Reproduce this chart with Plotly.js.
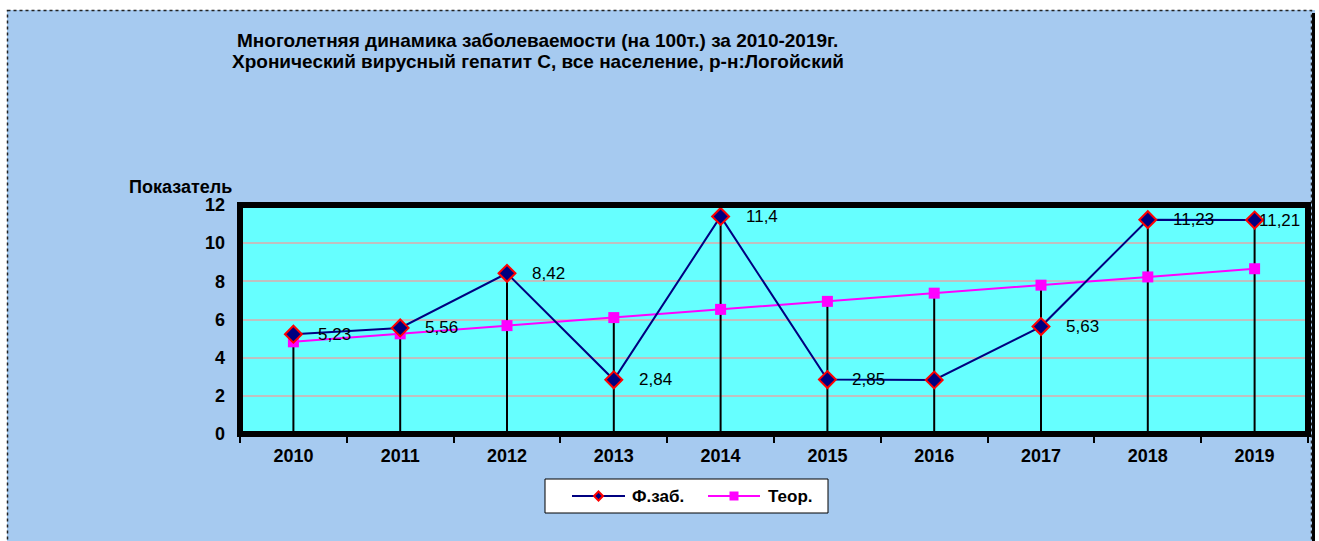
<!DOCTYPE html>
<html>
<head>
<meta charset="utf-8">
<script src="https://cdn.plot.ly/plotly-3.0.1.min.js"></script>
<style>html,body{margin:0;padding:0;background:#fff;}#chart{width:1319px;height:541px;}</style>
</head>
<body>
<div id="chart"></div>
<script>
// ---- data ----
var years = ['2010','2011','2012','2013','2014','2015','2016','2017','2018','2019'];
var fz = [5.23, 5.56, 8.42, 2.84, 11.4, 2.85, 2.83, 5.63, 11.23, 11.21];
var fzLabels = ['5,23','5,56','8,42','2,84','11,4','2,85','','5,63','11,23','11,21'];
var teor = [4.83, 5.25, 5.68, 6.10, 6.53, 6.95, 7.38, 7.80, 8.23, 8.66];
var yTicks = [0, 2, 4, 6, 8, 10, 12];
var seriesNames = ['Ф.заб.', 'Теор.'];
var titleLines = ['Многолетняя динамика заболеваемости (на 100т.) за 2010-2019г.',
                  'Хронический вирусный гепатит С, все население, р-н:Логойский'];
var yAxisLabel = 'Показатель';

// ---- geometry ----
var W = 1319, H = 541;
var M = {l: 240, r: 11, t: 205, b: 107};
var PW = W - M.l - M.r, PH = H - M.t - M.b;
function px(x) { return (x - M.l) / PW; }
function py(y) { return (H - M.b - y) / PH; }

var FONT = 'Arial, "Liberation Sans", sans-serif';
var NAVY = '#000080', MAG = '#FF00FF', RED = '#FF0000';
var idx = years.map(function (_, i) { return i; });

var dropTop = fz.map(function (v, i) { return Math.max(v, teor[i]); });

var traces = [
  { // drop lines
    x: idx, y: dropTop, type: 'scatter', mode: 'markers',
    marker: {size: 1, color: 'rgba(0,0,0,0)'},
    error_y: {type: 'data', symmetric: false, array: dropTop.map(function () { return 0; }),
              arrayminus: dropTop, color: '#000', thickness: 2, width: 0},
    showlegend: false, hoverinfo: 'skip'
  },
  {
    x: idx, y: teor, type: 'scatter', mode: 'lines+markers', name: seriesNames[1],
    line: {color: MAG, width: 2},
    marker: {symbol: 'square', size: 11, color: MAG, line: {width: 0}},
    showlegend: false
  },
  {
    x: idx, y: fz, type: 'scatter', mode: 'lines+markers', name: seriesNames[0],
    line: {color: NAVY, width: 2},
    marker: {symbol: 'diamond', size: 13, color: NAVY, line: {color: RED, width: 2}},
    showlegend: false
  }
];

var annotations = [];
fz.forEach(function (v, i) {
  if (!fzLabels[i]) return;
  annotations.push({
    x: i, y: v, xref: 'x', yref: 'y', text: fzLabels[i], showarrow: false,
    xanchor: 'left', yanchor: 'middle', xshift: (i === fz.length - 1) ? 2 : 23,
    font: {family: FONT, size: 17, color: '#000'}
  });
});
annotations.push({
  xref: 'paper', yref: 'paper', x: px(127), y: py(187), xanchor: 'left', yanchor: 'middle',
  text: '<b>' + yAxisLabel + '</b>', showarrow: false,
  font: {family: FONT, size: 18, color: '#000'}
});
annotations.push({
  xref: 'paper', yref: 'paper', x: px(537), y: py(40), xanchor: 'center', yanchor: 'middle',
  text: '<b>' + titleLines[0] + '</b>', showarrow: false,
  font: {family: FONT, size: 19, color: '#000'}
});
annotations.push({
  xref: 'paper', yref: 'paper', x: px(538), y: py(61), xanchor: 'center', yanchor: 'middle',
  text: '<b>' + titleLines[1] + '</b>', showarrow: false,
  font: {family: FONT, size: 19, color: '#000'}
});

function rect(x0, y0, x1, y1, opts) {
  var s = {type: 'rect', xref: 'paper', yref: 'paper', x0: px(x0), x1: px(x1), y0: py(y0), y1: py(y1)};
  for (var k in opts) s[k] = opts[k];
  return s;
}
function seg(x0, y0, x1, y1, color, w) {
  return {type: 'line', xref: 'paper', yref: 'paper', x0: px(x0), x1: px(x1), y0: py(y0), y1: py(y1),
          line: {color: color, width: w}};
}

// ---- legend (drawn manually to match the original box layout) ----
var LG = {x0: 545, y0: 479, x1: 828, y1: 513};
var lgY = (LG.y0 + LG.y1) / 2;
var legendItems = [
  {name: seriesNames[0], lx0: 572, lx1: 625, tx: 630, color: NAVY},
  {name: seriesNames[1], lx0: 708, lx1: 760, tx: 766, color: MAG}
];

var shapes = [
  rect(0, 0, W, 10, {fillcolor: '#fff', line: {width: 0}, layer: 'below'}),
  rect(0, 0, 7, H + 5, {fillcolor: '#fff', line: {width: 0}, layer: 'below'}),
  rect(1315, 0, W, H + 5, {fillcolor: '#fff', line: {width: 0}, layer: 'below'}),
  rect(1312, 13, 1315, H + 5, {fillcolor: '#000', line: {width: 0}, layer: 'below'}),
  rect(7.5, 10.5, 1311.5, H + 5, {line: {color: '#222', width: 1.5, dash: 'dot'}}),
  {type: 'rect', xref: 'paper', yref: 'paper', x0: 0, x1: 1, y0: 0, y1: 1,
   line: {color: '#000', width: 6}},
  rect(LG.x0, LG.y0, LG.x1, LG.y1, {fillcolor: '#fff', line: {color: '#000', width: 1}})
];
legendItems.forEach(function (it, k) {
  shapes.push(seg(it.lx0, lgY, it.lx1, lgY, it.color, 2));
  var cx = (it.lx0 + it.lx1) / 2;
  if (k === 0) {
    var r = 4.5;
    shapes.push({type: 'path', xref: 'paper', yref: 'paper',
      path: 'M' + px(cx) + ',' + py(lgY - r) + ' L' + px(cx + r) + ',' + py(lgY) +
            ' L' + px(cx) + ',' + py(lgY + r) + ' L' + px(cx - r) + ',' + py(lgY) + ' Z',
      fillcolor: NAVY, line: {color: RED, width: 2}});
  } else {
    shapes.push(rect(cx - 4.5, lgY - 4.5, cx + 4.5, lgY + 4.5, {fillcolor: MAG, line: {width: 0}}));
  }
  annotations.push({
    xref: 'paper', yref: 'paper', x: px(it.tx), y: py(lgY), xanchor: 'left', yanchor: 'middle',
    text: '<b>' + it.name + '</b>', showarrow: false,
    font: {family: FONT, size: 17, color: '#000'}
  });
});

var layout = {
  width: W, height: H,
  margin: M,
  paper_bgcolor: '#A6CAF0',
  plot_bgcolor: '#66FFFF',
  font: {family: FONT, color: '#000'},
  showlegend: false,
  xaxis: {
    type: 'linear', range: [-0.5, years.length - 0.5],
    tickvals: idx, ticktext: years, ticks: '',
    showgrid: false, showline: false, zeroline: false,
    tickfont: {family: FONT, size: 18, color: '#000', weight: 'bold'},
    ticklabelstandoff: 9, fixedrange: true
  },
  xaxis2: {
    overlaying: 'x', matches: 'x', range: [-0.5, years.length - 0.5], side: 'bottom',
    tickvals: idx.concat([years.length]).map(function (i) { return i - 0.5; }),
    ticktext: idx.concat([years.length]).map(function () { return ''; }),
    ticks: 'outside', ticklen: 8, tickwidth: 2, tickcolor: '#000',
    showgrid: false, showline: false, zeroline: false, showticklabels: false, fixedrange: true
  },
  yaxis: {
    range: [0, 12], tickvals: yTicks, ticktext: yTicks.map(String),
    showgrid: true, gridcolor: '#C0C0C0', gridwidth: 2,
    showline: false, zeroline: false, ticks: '',
    tickfont: {family: FONT, size: 18, color: '#000', weight: 'bold'},
    ticklabelstandoff: 14, fixedrange: true
  },
  annotations: annotations,
  shapes: shapes
};

// an empty trace to bring in the boundary tick axis
traces.unshift({x: [], y: [], xaxis: 'x2', yaxis: 'y', type: 'scatter', mode: 'markers',
                showlegend: false, hoverinfo: 'skip'});

Plotly.newPlot('chart', traces, layout, {displayModeBar: false, staticPlot: true});
</script>
</body>
</html>
